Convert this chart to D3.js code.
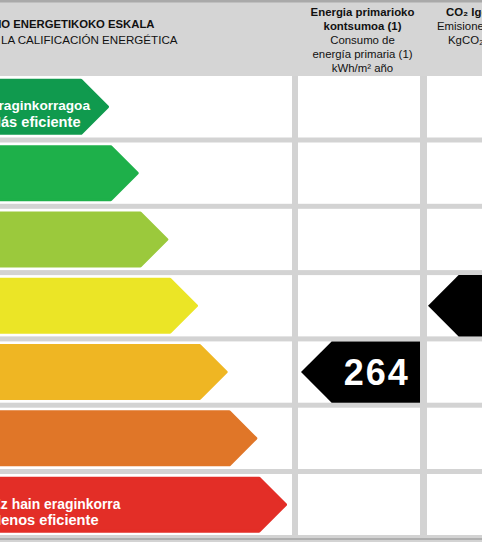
<!DOCTYPE html>
<html>
<head>
<meta charset="utf-8">
<script src="https://cdn.jsdelivr.net/npm/d3@7"></script>
<style>
  html, body { margin: 0; padding: 0; background: #ffffff; }
  svg { display: block; }
  text { font-family: "Liberation Sans", Arial, Helvetica, sans-serif; }
</style>
</head>
<body>
<div id="chart"></div>
<script>
// ---------- data ----------
const classes = ["A", "B", "C", "D", "E", "F", "G"];
const classColors = ["#109a4e", "#1eb04a", "#9bc93c", "#ebe526", "#efb623", "#e07628", "#e32e27"];
const topLabel = ["Eraginkorragoa", "Más eficiente"];
const bottomLabel = ["Ez hain eraginkorra", "Menos eficiente"];
const scaleTitle = ["KALIFIKAZIO ENERGETIKOKO ESKALA", "ESCALA DE LA CALIFICACIÓN ENERGÉTICA"];
const primaryHeaderBold = ["Energia primarioko", "kontsumoa (1)"];
const primaryHeaderNormal = ["Consumo de", "energía primaria (1)", "kWh/m² año"];
const co2HeaderBold = ["CO₂ Igorpenak"];
const co2HeaderNormal = ["Emisiones de CO₂ (2)", "KgCO₂/m² año"];
const primaryEnergyValue = 264;
const primaryEnergyClass = "E";
const co2Class = "D";

// ---------- layout ----------
const W = 482, H = 542;
const headerH = 76;
const svg = d3.select("#chart").append("svg").attr("width", W).attr("height", H);

const y = d3.scaleBand().domain(classes).range([73.7, 537.8]);
const tipX = d3.scaleLinear().domain([0, classes.length - 1]).range([109, 287]);
const color = d3.scaleOrdinal(classes, classColors);

const sepColor = "#d3d3d3";
const col1 = 295, col2 = 423.5;          // separator centres
const col1W = 6, col2W = 7;

// background
svg.append("rect").attr("x", 0).attr("y", 0).attr("width", W).attr("height", H).attr("fill", "#fff");
// header
svg.append("rect").attr("x", 0).attr("y", 0).attr("width", W).attr("height", headerH).attr("fill", "#d5d5d5");
svg.append("rect").attr("x", 0).attr("y", 0).attr("width", W).attr("height", 2.5).attr("fill", "#a9a9a9");

// horizontal separators
svg.append("g").selectAll("rect").data(classes.slice(1)).join("rect")
  .attr("x", 0).attr("width", W)
  .attr("y", d => y(d) - 2.5).attr("height", 5)
  .attr("fill", sepColor);
// bottom border
svg.append("rect").attr("x", 0).attr("width", W).attr("y", 535).attr("height", H - 535).attr("fill", sepColor);
svg.append("rect").attr("x", 0).attr("width", W).attr("y", 538.3).attr("height", 1.4).attr("fill", "#a0a0a0");

// vertical separators
svg.append("rect").attr("x", col1 - col1W / 2).attr("width", col1W).attr("y", headerH).attr("height", 535 - headerH).attr("fill", sepColor);
svg.append("rect").attr("x", col2 - col2W / 2).attr("width", col2W).attr("y", headerH).attr("height", 535 - headerH).attr("fill", sepColor);

// ---------- class arrows ----------
const arrowH = 56;
function arrowPath(x0, tip, top, h) {
  const p = h / 2;
  return `M${x0},${top}L${tip - p},${top}L${tip},${top + p}L${tip - p},${top + h}L${x0},${top + h}Z`;
}
svg.append("g").selectAll("path").data(classes).join("path")
  .attr("d", (d, i) => {
    const cy = y(d) + y.bandwidth() / 2;
    return arrowPath(-20, tipX(i) - 1.5, cy - arrowH / 2 + 1.5, arrowH - 3);
  })
  .attr("fill", d => color(d))
  .attr("stroke", d => color(d))
  .attr("stroke-width", 3)
  .attr("stroke-linejoin", "round");

// labels inside A and G
function arrowLabel(cls, lines, ends, sizes, b1, gap) {
  const g = svg.append("g");
  lines.forEach((t, k) => {
    g.append("text").attr("x", ends[k]).attr("y", y(cls) + b1 + k * gap)
      .attr("text-anchor", "end").attr("fill", "#fff")
      .attr("font-size", sizes[k]).attr("font-weight", "bold").text(t);
  });
}
arrowLabel("A", topLabel, [90, 80.5], [13.6, 14.6], 35.8, 17.8);
arrowLabel("G", bottomLabel, [120.5, 98.5], [13.9, 14.6], 37.5, 15.8);

// ---------- header text ----------
const hdr = svg.append("g");
scaleTitle.forEach((t, k) => {
  hdr.append("text").attr("x", [154.5, 177.5][k]).attr("y", 28 + k * 16)
    .attr("text-anchor", "end").attr("font-size", [11.3, 11.6][k])
    .attr("font-weight", k === 0 ? "bold" : "normal").attr("fill", "#111").text(t);
});
const c2 = 362.5;
primaryHeaderBold.concat(primaryHeaderNormal).forEach((t, k) => {
  hdr.append("text").attr("x", c2).attr("y", 15.5 + k * 14)
    .attr("text-anchor", "middle").attr("font-size", 11.4)
    .attr("font-weight", k < primaryHeaderBold.length ? "bold" : "normal")
    .attr("fill", "#111").text(t);
});
const c3Starts = [446, 437, 448];
co2HeaderBold.concat(co2HeaderNormal).forEach((t, k) => {
  hdr.append("text").attr("x", c3Starts[k]).attr("y", 15.5 + k * 14)
    .attr("text-anchor", "start").attr("font-size", 11.4)
    .attr("font-weight", k < co2HeaderBold.length ? "bold" : "normal")
    .attr("fill", "#111").text(t);
});

// ---------- rating arrows (black) ----------
function ratingArrow(cls, left, right, value) {
  const top = y(cls) + 2.5, h = y.bandwidth() - 5;
  const p = h / 2;
  svg.append("path")
    .attr("d", `M${left},${top + p}L${left + p},${top}L${right},${top}L${right},${top + h}L${left + p},${top + h}Z`)
    .attr("fill", "#000");
  if (value != null) {
    svg.append("text").attr("x", (left + p + right) / 2 + 1).attr("y", top + h / 2 + 12.5)
      .attr("text-anchor", "middle").attr("fill", "#fff")
      .attr("font-size", 36).attr("letter-spacing", 2).attr("font-weight", "bold").text(value);
  }
}
ratingArrow(primaryEnergyClass, col1 + col1W / 2 + 3, col2 - col2W / 2, primaryEnergyValue);
ratingArrow(co2Class, col2 + col2W / 2 + 1, W + 80, null);
</script>
</body>
</html>
